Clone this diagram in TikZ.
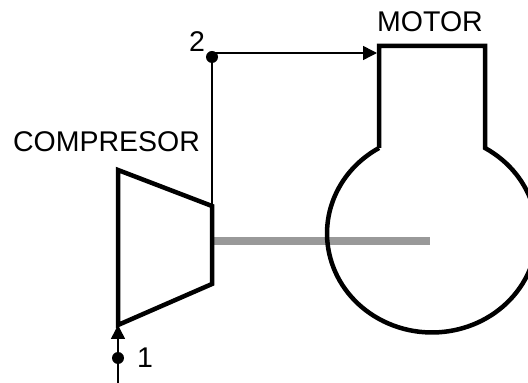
\documentclass[tikz,border=0pt]{standalone}
\usepackage{fontspec}
\setmainfont{Liberation Sans}
\usetikzlibrary{arrows.meta}
\definecolor{shaftgray}{HTML}{999999}
\tikzset{
	label/.style={inner sep=0pt, font=\fontsize{28.5}{30}\selectfont},
	point/.style={circle, fill=black, inner sep=0pt, minimum size=12pt},
	thick line/.style={line width=4.5pt, line join=miter},
	thin line/.style={line width=1.5pt},
	flow/.style={thin line, -{Triangle[length=14pt, width=14pt]}}
}
\begin{document}
\begin{tikzpicture}[x=1pt, y=1pt]
			\useasboundingbox (0,0) rectangle (528,383);
			\coordinate (s) at (212,142);
			\coordinate (c) at (430,142);
			\draw[shaftgray, line width=8pt] (s) -- (c);
			\coordinate (a) at (118,213);
			\coordinate (b) at (212,177);
			\coordinate (d) at (212,99);
			\coordinate (e) at (118,58);
			\draw[thick line] (a) -- (b) -- (d) -- (e) -- cycle;
			\coordinate (f) at (379,235);
			\coordinate (g) at (379,337);
			\coordinate (h) at (485,337);
			\coordinate (i) at (485,235);
			\draw[thick line] (f) -- (g) -- (h) -- (i) arc[start angle=59.7, end angle=-239.7, x radius=105, y radius=99];
			\node[point] (p1) at (118,25) {};
			\node[point] (p2) at (212,326) {};
			\coordinate (start) at (118,0);
			\coordinate (top) at (212,330);
			\coordinate (inlet) at (377,330);
			\draw[thin line] (start) -- (p1);
			\draw[flow] (p1) -- (e);
			\draw[thin line] (p2) -- (b);
			\draw[flow] (top) -- (inlet);
			\node[label] (compresor) at (106.5,241) {COMPRESOR};
			\node[label] (motor) at (430,361) {MOTOR};
			\node[label] (one) at (145,25) {1};
			\node[label] (two) at (197,341) {2};
		\end{tikzpicture}
\end{document}
